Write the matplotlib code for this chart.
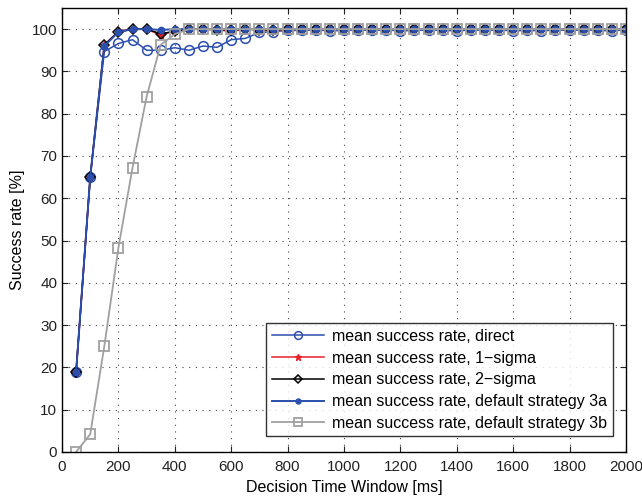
import matplotlib.pyplot as plt
import numpy as np

plt.rcParams['font.family'] = ['Liberation Sans', 'DejaVu Sans']

window_ms = list(range(50, 2001, 50))

direct = [19, 65, 94.7, 96.6, 97.5, 95.0, 95.0, 95.6, 95.0, 96.0, 95.7, 97.5, 97.8, 99.2, 99.4,
          99.7, 99.7, 99.8, 99.6, 99.7, 99.8, 99.7, 99.8, 99.6, 99.7, 99.8, 99.7, 99.6, 99.8, 99.7,
          99.8, 99.6, 99.7, 99.6, 99.8, 99.7, 99.8, 99.7, 99.6, 99.9]
sigma1 = [19, 65, 96.3, 99.5, 100, 100, 98.6, 99.6, 100, 100, 99.8, 99.5, 100, 99.8, 99.6,
          100, 100, 99.9, 100, 100, 100, 100, 100, 100, 100, 100, 100, 100, 100, 100,
          100, 100, 100, 100, 100, 100, 100, 100, 100, 100]
sigma2 = [19, 65, 96.3, 99.3, 100, 100, 98.9, 99.5, 100, 100, 99.9, 99.8, 100, 99.9, 99.8,
          100, 100, 100, 100, 100, 100, 100, 100, 100, 100, 100, 100, 100, 100, 100,
          100, 100, 100, 100, 100, 100, 100, 100, 100, 100]
strat3a = [19, 65, 96.0, 99.3, 100, 100, 99.8, 100, 100, 100, 100, 100, 100, 100, 100,
           100, 100, 100, 100, 100, 100, 100, 100, 100, 100, 100, 100, 100, 100, 100,
           100, 100, 100, 100, 100, 100, 100, 100, 100, 100]
strat3b = [0, 4.2, 25, 48.3, 67.2, 84.0, 96.3, 98.8, 100, 100, 100, 100, 100, 100, 100,
           100, 100, 100, 100, 100, 100, 100, 100, 100, 100, 100, 100, 100, 100, 100,
           100, 100, 100, 100, 100, 100, 100, 100, 100, 100]

blue = '#2c4fae'

fig = plt.figure(figsize=(6.42, 4.98), dpi=100)
ax = fig.add_axes([0.0966, 0.0924, 0.8784, 0.8916])

ax.plot(window_ms, direct, color=blue, marker='o', mfc='none', mec=blue, ms=7, mew=1.1,
        lw=1.1, label='mean success rate, direct')
ax.plot(window_ms, sigma1, color='#e8202a', marker='*', ms=6, lw=1.1,
        label='mean success rate, 1\u2212sigma')
ax.plot(window_ms, sigma2, color='black', marker='D', mfc='none', ms=5, mew=1.1, lw=1.1,
        label='mean success rate, 2\u2212sigma')
ax.plot(window_ms, strat3a, color=blue, marker='o', ms=4.5, lw=1.4,
        label='mean success rate, default strategy 3a')
ax.plot(window_ms, strat3b, color='#a0a0a0', marker='s', mfc='none', ms=7, mew=1.3, lw=1.3,
        label='mean success rate, default strategy 3b')

ax.set_xlim(0, 2000)
ax.set_ylim(0, 105)
ax.set_xticks(np.arange(0, 2001, 200))
ax.set_yticks(np.arange(0, 101, 10))
ax.tick_params(direction='in', length=4, labelsize=11, top=True, right=True, colors='#222222')
ax.tick_params(axis='x', pad=6)
ax.grid(True, linestyle=(0, (1, 5)), color='#444444', lw=0.8)
for s in ax.spines.values():
    s.set_linewidth(1.0)

ax.set_xlabel('Decision Time Window [ms]', fontsize=11.5, labelpad=4)
ax.set_ylabel('Success rate [%]', fontsize=11.5, labelpad=5)

leg = ax.legend(loc='lower right', bbox_to_anchor=(0.977, 0.035), fontsize=11.5, frameon=True,
                fancybox=False, edgecolor='black', handlelength=3.3, borderaxespad=0,
                labelspacing=0.42, borderpad=0.35, handletextpad=0.5, markerscale=0.8)
leg.get_frame().set_linewidth(1.0)

fig.savefig('out.png', dpi=100)
